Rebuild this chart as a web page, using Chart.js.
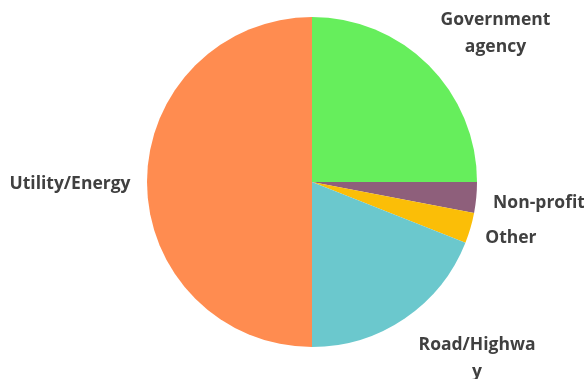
<!DOCTYPE html>
<html>
<head>
<meta charset="utf-8">
<script src="https://cdn.jsdelivr.net/npm/chart.js@4"></script>
<style>
  html, body { margin: 0; padding: 0; background: #fff; }
  #wrap { width: 584px; height: 379px; }
</style>
</head>
<body>
<div id="wrap"><canvas id="chart" width="584" height="379"></canvas></div>
<script>
// Share of organisations by sector (percent)
const categories = ['Government agency', 'Non-profit', 'Other', 'Road/Highway', 'Utility/Energy'];
const shares = [25, 3, 3, 19, 50];
// Label text as drawn, with its line breaks
const labelLines = [['Government', 'agency'], ['Non-profit'], ['Other'], ['Road/Highwa', 'y'], ['Utility/Energy']];
const sliceColors = ['#66EE5C', '#8E5F7B', '#FBBE07', '#6BC8CD', '#FF8C50'];

// Per-label placement: distance beyond the rim along the slice mid-angle, plus a small nudge
const labelPlacement = [
  { gap: 45, dx: 35, dy: 0 },
  { gap: 60, dx: 3, dy: 0 },
  { gap: 40, dx: 2, dy: -1 },
  { gap: 45, dx: 47, dy: 3 },
  { gap: 78, dx: 1, dy: 2 }
];

const outsideLabels = {
  id: 'outsideLabels',
  afterDatasetsDraw(chart) {
    const ctx = chart.ctx;
    const meta = chart.getDatasetMeta(0);
    ctx.save();
    ctx.font = 'bold 17.5px "Open Sans", sans-serif';
    ctx.fillStyle = '#404040';
    ctx.textAlign = 'center';
    ctx.textBaseline = 'middle';
    const lineH = 27;
    meta.data.forEach((arc, i) => {
      const p = arc.getProps(['x', 'y', 'startAngle', 'endAngle', 'outerRadius'], true);
      const mid = (p.startAngle + p.endAngle) / 2;
      const pl = labelPlacement[i];
      const r = p.outerRadius + pl.gap;
      const cx = p.x + Math.cos(mid) * r + pl.dx;
      const cy = p.y + Math.sin(mid) * r + pl.dy;
      const lines = labelLines[i];
      const top = cy - (lines.length - 1) * lineH / 2;
      lines.forEach((t, k) => ctx.fillText(t, cx, top + k * lineH));
    });
    ctx.restore();
  }
};

new Chart(document.getElementById('chart'), {
  type: 'pie',
  data: {
    labels: categories,
    datasets: [{
      data: shares,
      backgroundColor: sliceColors,
      borderWidth: 0
    }]
  },
  options: {
    responsive: false,
    animation: false,
    layout: { padding: { left: 40, right: 0, top: 17, bottom: 32 } },
    plugins: {
      legend: { display: false },
      tooltip: { enabled: false }
    }
  },
  plugins: [outsideLabels]
});
</script>
</body>
</html>
